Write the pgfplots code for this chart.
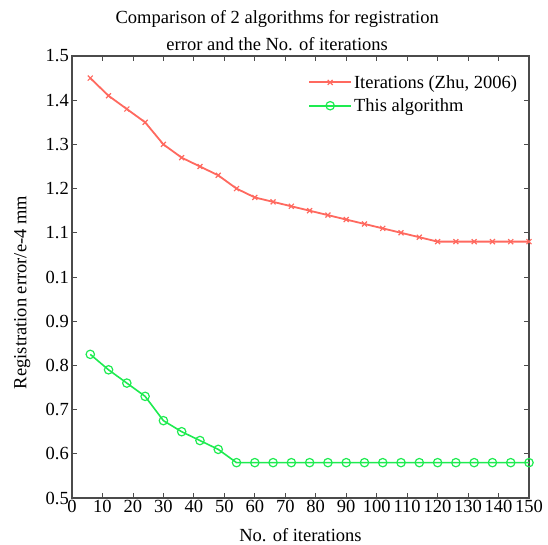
\documentclass[border=0pt]{standalone}
\usepackage{fontspec}
\setmainfont{Liberation Serif}
\usepackage{pgfplots}
\pgfplotsset{compat=1.18}
\definecolor{zhured}{RGB}{255,105,95}
\definecolor{algogreen}{RGB}{30,235,80}
\definecolor{axgray}{RGB}{75,75,75}
\newcommand{\fs}{\fontsize{18.5}{22}\selectfont}
\begin{document}
\begin{tikzpicture}
\begin{axis}[
  scale only axis,
  width=457pt,
  height=442pt,
  xmin=0, xmax=150,
  ymin=0.5, ymax=1.5,
  xtick={0,10,...,150},
  ytick={0.5,0.6,0.7,0.8,0.9,1.0,1.1,1.2,1.3,1.4,1.5},
  yticklabels={0.5,0.6,0.7,0.8,0.9,0.1,1.1,1.2,1.3,1.4,1.5},
  tick align=inside,
  major tick length=5pt,
  axis line style={axgray,line width=1.2pt},
  every tick/.style={axgray,line width=0.8pt},
  tick label style={font=\fs},
  xticklabel style={inner sep=1pt,yshift=-1pt},
  yticklabel style={inner sep=1pt,xshift=-2pt},
  /pgf/number format/assume math mode=true,
  label style={font=\fs},
  xlabel={No. of iterations},
  ylabel={Registration error/e-4 mm},
  ylabel style={at={(axis description cs:-0.109,0.465)},anchor=center},
  xlabel style={at={(axis description cs:0.5,-0.06)},anchor=north},
  title={Comparison of 2 algorithms for registration\\error and the No. of iterations},
  title style={at={(axis description cs:0.449,1)},anchor=south,align=center,
    inner sep=0pt,yshift=-1pt,font=\fontsize{18.5}{27}\selectfont},
  legend style={at={(axis description cs:0.985,0.966)},anchor=north east,
    draw=none,fill=none,font=\fs,row sep=5pt,
    nodes={inner sep=2pt}},
  legend cell align=left,
  legend image code/.code={%
    \draw[mark repeat=2,mark phase=2,#1] plot coordinates {(0pt,0pt) (21pt,0pt) (42pt,0pt)};},
]
\addplot[zhured,line width=1.8pt,mark=x,mark size=3.5pt,mark options={line width=1.2pt}] coordinates {
(6,1.45) (12,1.41) (18,1.38) (24,1.35) (30,1.30) (36,1.27) (42,1.25) (48,1.23)
(54,1.20) (60,1.18) (66,1.17) (72,1.16) (78,1.15) (84,1.14) (90,1.13) (96,1.12)
(102,1.11) (108,1.10) (114,1.09) (120,1.08) (126,1.08) (132,1.08) (138,1.08)
(144,1.08) (150,1.08)};
\addplot[algogreen,line width=1.6pt,mark=o,mark size=4.2pt,mark options={line width=1.2pt}] coordinates {
(6,0.825) (12,0.79) (18,0.76) (24,0.73) (30,0.675) (36,0.65) (42,0.63) (48,0.61)
(54,0.58) (60,0.58) (66,0.58) (72,0.58) (78,0.58) (84,0.58) (90,0.58) (96,0.58)
(102,0.58) (108,0.58) (114,0.58) (120,0.58) (126,0.58) (132,0.58) (138,0.58)
(144,0.58) (150,0.58)};
\legend{{Iterations (Zhu, 2006)},{This algorithm}}
\end{axis}
\pgfresetboundingbox
\path ([shift={(-72pt,-46pt)}]current axis.south west) rectangle ([shift={(476pt,498pt)}]current axis.south west);
\end{tikzpicture}
\end{document}
